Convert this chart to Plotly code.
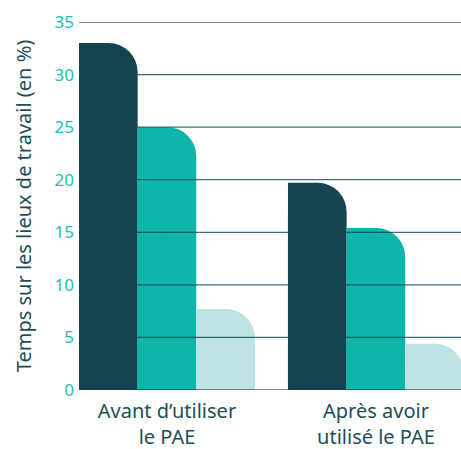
import plotly.graph_objects as go

categories = ["Avant d’utiliser<br>le PAE", "Après avoir<br>utilisé le PAE"]
series_names = ["Série 1", "Série 2", "Série 3"]
series_values = [
    [33.0, 19.7],
    [25.0, 15.4],
    [7.7, 4.4],
]
colors = ["#14444F", "#0DB5AB", "#BDE3E2"]
y_ticks = [0, 5, 10, 15, 20, 25, 30, 35]

group_width = 0.842
bw = group_width / len(series_values)
xs = list(range(len(categories)))

fig = go.Figure()
for i, (name, vals, col) in enumerate(zip(series_names, series_values, colors)):
    off = -group_width / 2 + i * bw
    fig.add_trace(go.Bar(
        x=xs, y=vals, name=name, offset=off, width=bw,
        marker=dict(color=col, line=dict(width=0), cornerradius=29),
        showlegend=False, hoverinfo="skip",
    ))
    fig.add_trace(go.Bar(
        x=xs, y=vals, name=name, offset=off, width=bw / 2,
        marker=dict(color=col, line=dict(width=0)),
        showlegend=False, hoverinfo="skip",
    ))

shapes = []
for t in y_ticks:
    shapes.append(dict(type="line", xref="paper", x0=0, x1=1, yref="y", y0=t, y1=t,
                       layer="above", line=dict(color="rgba(20,72,82,0.8)", width=1.3)))

fig.update_layout(
    width=461, height=449,
    margin=dict(l=79, r=0, t=22, b=59),
    barmode="overlay",
    plot_bgcolor="white", paper_bgcolor="white",
    font=dict(family="Noto Sans, Open Sans, sans-serif"),
    shapes=shapes,
    xaxis=dict(
        tickmode="array", tickvals=xs, ticktext=categories,
        range=[-group_width / 2, 1.407],
        showgrid=False, zeroline=False, showline=False, ticks="",
        tickfont=dict(size=20, color="#1E4E58"),
        ticklabelstandoff=7,
        automargin=False,
    ),
    yaxis=dict(
        range=[0, 35], tickmode="array", tickvals=y_ticks,
        showgrid=False, zeroline=False, showline=False, ticks="",
        tickfont=dict(size=17, color="#1DBFB2"),
        ticklabelstandoff=4,
        title=dict(text="Temps sur les lieux de travail (en %)",
                   font=dict(size=20, color="#1E4E58"), standoff=17),
        automargin=False,
    ),
)

fig.write_html(
    "out.html",
    config={"displayModeBar": False},
    post_script="document.body.style.margin='0';document.body.style.overflow='hidden';",
)
